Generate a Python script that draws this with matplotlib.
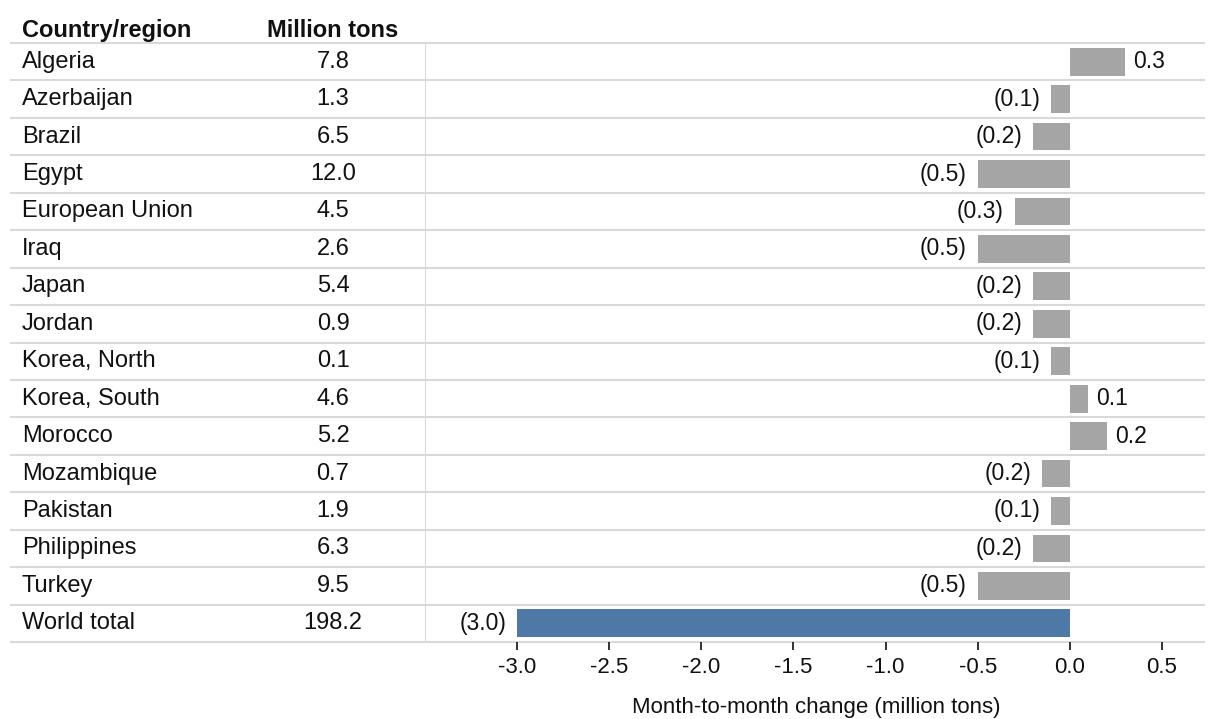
import matplotlib

matplotlib.use("Agg")
import matplotlib.pyplot as plt
from matplotlib.transforms import blended_transform_factory

plt.rcParams["font.family"] = ["Liberation Sans", "DejaVu Sans"]

paises = [
    "Algeria", "Azerbaijan", "Brazil", "Egypt", "European Union", "Iraq", "Japan",
    "Jordan", "Korea, North", "Korea, South", "Morocco", "Mozambique", "Pakistan",
    "Philippines", "Turkey", "World total",
]
milhoes_ton = ["7.8", "1.3", "6.5", "12.0", "4.5", "2.6", "5.4", "0.9", "0.1", "4.6",
               "5.2", "0.7", "1.9", "6.3", "9.5", "198.2"]
variacao = [0.3, -0.1, -0.2, -0.5, -0.3, -0.5, -0.2, -0.2, -0.1, 0.1, 0.2, -0.15,
            -0.1, -0.2, -0.5, -3.0]
rotulos = ["0.3", "(0.1)", "(0.2)", "(0.5)", "(0.3)", "(0.5)", "(0.2)", "(0.2)", "(0.1)",
           "0.1", "0.2", "(0.2)", "(0.1)", "(0.2)", "(0.5)", "(3.0)"]
ticks_x = [-3.0, -2.5, -2.0, -1.5, -1.0, -0.5, 0.0, 0.5]

COR_CINZA = "#A5A5A5"
COR_AZUL = "#4E79A7"
COR_GRADE = "#D9D9D9"
COR_TEXTO = "#111111"

W, H = 1208, 719
fig = plt.figure(figsize=(W / 100, H / 100), dpi=100)
ax = fig.add_axes([425 / W, 1 - 642 / H, (1208 - 425) / W, (642 - 43) / H])

n = len(paises)
posicoes = list(range(n))
cores = [COR_CINZA] * (n - 1) + [COR_AZUL]
ax.barh(posicoes, variacao, height=0.74, color=cores, zorder=3)
ax.set_ylim(n - 0.5, -0.5)
ax.set_xlim(-3.5, 0.75)

for y, v, r in zip(posicoes, variacao, rotulos):
    if v >= 0:
        ax.text(v + 0.045, y, r, ha="left", va="center", fontsize=16.5, color=COR_TEXTO)
    else:
        ax.text(v - 0.06, y, r, ha="right", va="center", fontsize=16.5, color=COR_TEXTO)

# tabela à esquerda
trans = blended_transform_factory(fig.transFigure, ax.transData)
for y, p, m in zip(posicoes, paises, milhoes_ton):
    ax.text(22 / W, y, p, transform=trans, ha="left", va="center", fontsize=17, color=COR_TEXTO, clip_on=False)
    ax.text(333 / W, y, m, transform=trans, ha="center", va="center", fontsize=17, color=COR_TEXTO, clip_on=False)
ax.text(22 / W, -0.84, "Country/region", transform=trans, ha="left", va="center",
        fontsize=17, fontweight="bold", color=COR_TEXTO, clip_on=False)
ax.text(333 / W, -0.84, "Million tons", transform=trans, ha="center", va="center",
        fontsize=17, fontweight="bold", color=COR_TEXTO, clip_on=False)

# linhas de grade horizontais cruzando a figura inteira
linhas_y = [i - 0.5 for i in range(n + 1)]
ax.hlines(linhas_y, 10 / W, 1205 / W, transform=trans, colors=COR_GRADE, linewidth=1.5,
          clip_on=False, zorder=1)
ax.axvline(-3.5, color=COR_GRADE, linewidth=1.5, zorder=1)

for lado in ["top", "right", "left", "bottom"]:
    ax.spines[lado].set_visible(False)
ax.set_yticks([])
ax.set_xticks(ticks_x)
ax.set_xticklabels([f"{t:.1f}" for t in ticks_x], fontsize=16)
ax.tick_params(axis="x", length=6, width=1.3, color="#222222", pad=5, labelcolor=COR_TEXTO)
ax.text(0.5, 1 - 708 / H, "Month-to-month change (million tons)",
        transform=blended_transform_factory(ax.transAxes, fig.transFigure),
        ha="center", va="center", fontsize=16, color=COR_TEXTO)

fig.savefig("out.png", dpi=100)
